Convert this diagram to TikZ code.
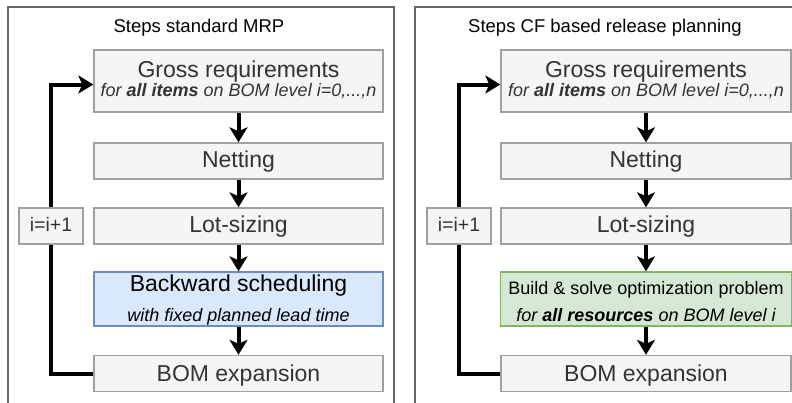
\documentclass[tikz,border=0pt]{standalone}
\usepackage{fontspec}
\setmainfont{Liberation Sans}
\usetikzlibrary{arrows.meta}
\definecolor{boxfill}{HTML}{F5F5F5}
\definecolor{boxline}{HTML}{A0A0A0}
\definecolor{txtgray}{HTML}{333333}
\definecolor{frameline}{HTML}{666666}
\definecolor{bluefill}{HTML}{DAE8FC}
\definecolor{blueline}{HTML}{6C8EBF}
\definecolor{greenfill}{HTML}{D5E8D4}
\definecolor{greenline}{HTML}{82B366}
\pgfdeclarelayer{bg}
\pgfdeclarelayer{paper}
\pgfsetlayers{paper,bg,main}
\tikzset{
  frame/.style={draw=frameline, line width=1.3pt},
  graybox/.style={draw=boxline, fill=boxfill, line width=1.4pt, inner sep=0pt, minimum width=289pt, minimum height=36pt},
  bluebox/.style={graybox, draw=blueline, fill=bluefill},
  greenbox/.style={graybox, draw=greenline, fill=greenfill},
  bigtxt/.style={anchor=base, inner sep=0pt, text=txtgray, font=\fontsize{23}{27}\selectfont},
  subtxt/.style={anchor=base, inner sep=0pt, text=txtgray, font=\fontsize{18}{22}\selectfont\itshape},
  midtxt/.style={anchor=base, inner sep=0pt, text=black, font=\fontsize{18}{22}\selectfont},
  ttltxt/.style={anchor=base, inner sep=0pt, text=black, font=\fontsize{18.5}{22}\selectfont},
  itxt/.style={anchor=base, inner sep=0pt, text=txtgray, font=\fontsize{19.5}{23}\selectfont},
  flow/.style={line width=4pt, -{Stealth[length=15pt, width=18pt, inset=4pt]}},
  loopline/.style={line width=4pt, -{Stealth[length=15pt, width=18pt, inset=4pt]}}
}
\begin{document}
\begin{tikzpicture}[x=1pt,y=-1pt]
\useasboundingbox (0,0) rectangle (792,402);
\clip (0,0) rectangle (792,402);
\begin{pgfonlayer}{paper}
\fill[white] (0,0) rectangle (792,402);
\end{pgfonlayer}

% frames
\draw[frame] (8,7) rectangle (394,420);
\draw[frame] (415,7) rectangle (810,420);
\node[ttltxt] (titleL) at (199,32.3) {Steps standard MRP};
\node[ttltxt] (titleR) at (605,32.3) {Steps CF based release planning};

% ---------- left panel ----------
\node[graybox, minimum height=62pt] (grossL) at (238.5,81) {};
\node[bigtxt] (grossLa) at (238.5,77.3) {Gross requirements};
\node[subtxt] (grossLb) at (238.5,96.7) {for \textbf{all items} on BOM level i=0,...,n};

\node[graybox] (netL) at (238.5,161) {};
\node[bigtxt] (netLa) at (238.5,167.3) {Netting};

\node[graybox] (lotL) at (238.5,226) {};
\node[bigtxt] (lotLa) at (238.5,232.7) {Lot-sizing};

\node[bluebox, minimum height=54pt] (backL) at (238.5,299) {};
\node[bigtxt, text=black] (backLa) at (238.5,291.7) {Backward scheduling};
\node[subtxt, text=black] (backLb) at (238.5,321.7) {with fixed planned lead time};

\node[graybox] (bomL) at (238.5,373.5) {};
\node[bigtxt] (bomLa) at (238.5,381.7) {BOM expansion};

\node[graybox, minimum width=64pt] (iiL) at (51,226) {};
\node[itxt] (iiLa) at (51,231.7) {i=i+1};

\draw[flow] (grossL.south) -- (netL.north);
\draw[flow] (netL.south) -- (lotL.north);
\draw[flow] (lotL.south) -- (backL.north);
\draw[flow] (backL.south) -- (bomL.north);
\begin{pgfonlayer}{bg}
\draw[loopline] (bomL.west) -| (iiL.center) |- ([yshift=-3.5pt]grossL.west);
\end{pgfonlayer}

% ---------- right panel ----------
\node[graybox, minimum width=290pt, minimum height=62pt] (grossR) at (646,81) {};
\node[bigtxt] (grossRa) at (646,77.3) {Gross requirements};
\node[subtxt] (grossRb) at (646,96.7) {for \textbf{all items} on BOM level i=0,...,n};

\node[graybox, minimum width=290pt] (netR) at (646,161) {};
\node[bigtxt] (netRa) at (646,167.3) {Netting};

\node[graybox, minimum width=290pt] (lotR) at (646,226) {};
\node[bigtxt] (lotRa) at (646,232.7) {Lot-sizing};

\node[greenbox, minimum width=291pt, minimum height=54pt] (optR) at (646,299) {};
\node[midtxt] (optRa) at (646,294.3) {Build \& solve optimization problem};
\node[subtxt, text=black] (optRb) at (646,321.7) {for \textbf{all resources} on BOM level i};

\node[graybox, minimum width=290pt] (bomR) at (646,373.5) {};
\node[bigtxt] (bomRa) at (646,381.7) {BOM expansion};

\node[graybox, minimum width=64pt] (iiR) at (459,226) {};
\node[itxt] (iiRa) at (459,231.7) {i=i+1};

\draw[flow] (grossR.south) -- (netR.north);
\draw[flow] (netR.south) -- (lotR.north);
\draw[flow] (lotR.south) -- (optR.north);
\draw[flow] (optR.south) -- (bomR.north);
\begin{pgfonlayer}{bg}
\draw[loopline] (bomR.west) -| (iiR.center) |- ([yshift=-3.5pt]grossR.west);
\end{pgfonlayer}
\end{tikzpicture}
\end{document}
